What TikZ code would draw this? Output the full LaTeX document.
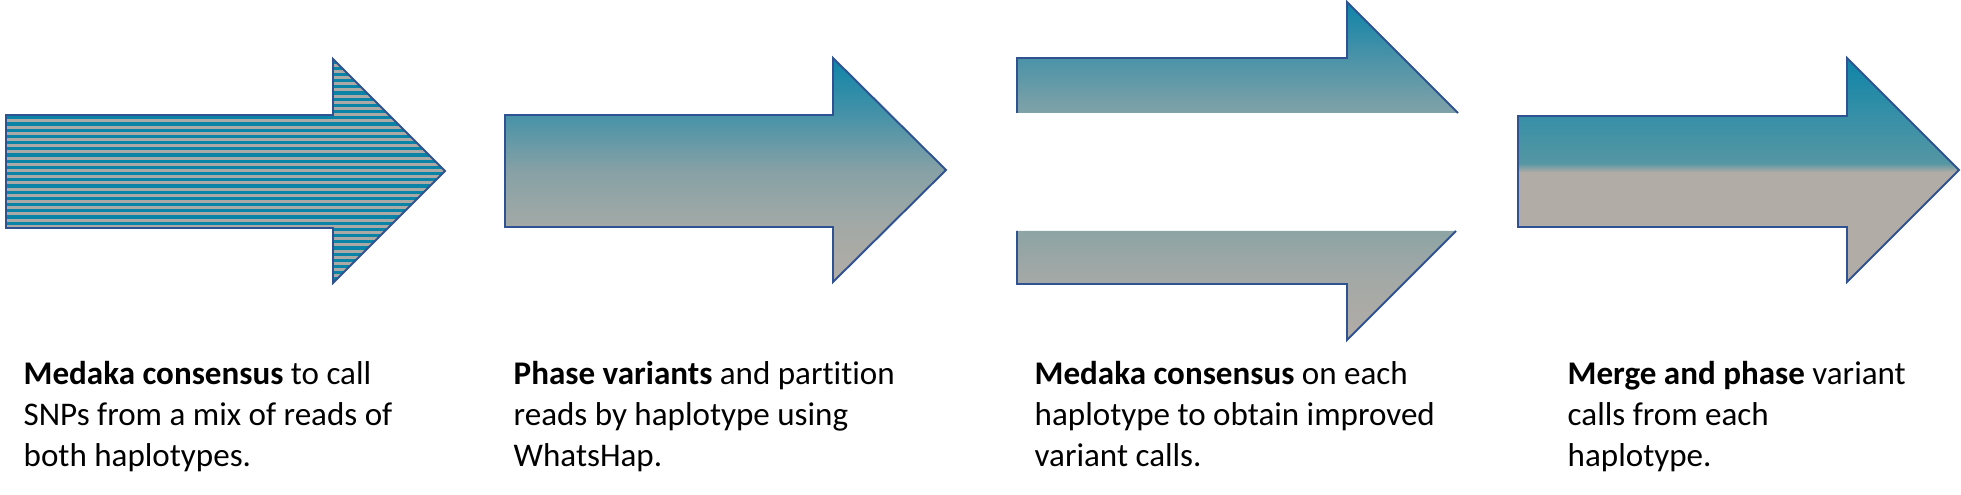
\documentclass[tikz,border=0pt]{standalone}
\usepackage{fontspec}
\setmainfont{Carlito}[Ligatures=NoCommon]
\usepackage{xcolor}
\usepackage{tikz}
\usetikzlibrary{calc, positioning}

\definecolor{arrteal}{HTML}{0E84A8}
\definecolor{arrgray}{HTML}{B2ACA7}
\definecolor{arredge}{HTML}{2F5293}
\definecolor{stripeteal}{HTML}{0983A6}
\definecolor{stripegray}{HTML}{AAA9A6}
\definecolor{phasehi}{HTML}{4592A8}
\definecolor{phasemid}{HTML}{86A1A6}
\definecolor{phaselow}{HTML}{A3A9A6}
\definecolor{splithi}{HTML}{4B93A8}
\definecolor{splitcut}{HTML}{80A2A8}
\definecolor{splitmid}{HTML}{8EA4A5}
\definecolor{splitlow}{HTML}{A5A9A6}
\definecolor{mergeteal}{HTML}{3790A7}
\definecolor{mergelow}{HTML}{5596A3}

\pgfdeclareverticalshading{phaseshade}{100bp}{color(0bp)=(arrgray); color(25bp)=(arrgray);
  color(37.5bp)=(phaselow); color(50bp)=(phasemid); color(62.5bp)=(phasehi); color(75bp)=(arrteal); color(100bp)=(arrteal)}
\pgfdeclareverticalshading{splitshade}{100bp}{color(0bp)=(arrgray); color(25bp)=(arrgray);
  color(33.3bp)=(splitlow); color(41bp)=(splitmid); color(58.6bp)=(splitcut); color(66.7bp)=(splithi); color(75bp)=(arrteal); color(100bp)=(arrteal)}
\pgfdeclareverticalshading{mergeshade}{100bp}{color(0bp)=(arrgray); color(49.5bp)=(arrgray);
  color(51.5bp)=(mergelow); color(62bp)=(mergeteal); color(75bp)=(arrteal); color(100bp)=(arrteal)}

\tikzset{
  arrowedge/.style={draw=arredge, line width=0.55pt, line join=miter},
  caption/.style={anchor=north west, align=left, inner sep=0pt,
    font=\fontsize{9.4}{11.67}\selectfont}
}

\begin{document}
\begin{tikzpicture}[x=0.01cm, y=-0.01cm]
    \useasboundingbox (0,0) rectangle (1961,495);

    % 1. Mũi tên sọc
    \begin{scope}
        \clip (6,115) -- (333,115) -- (333,59) -- (445,171) -- (333,283) -- (333,228) -- (6,228) -- cycle;
        \fill[stripegray] (0,50) rectangle (450,290);
        \foreach \y in {60.5,66.7,...,284} {
            \fill[stripeteal] (0,\y) rectangle (450,\y+3.2);
        }
    \end{scope}
    \draw[arrowedge] (6,115) -- (333,115) -- (333,59) -- (445,171) -- (333,283) -- (333,228) -- (6,228) -- cycle;

    % 2. Mũi tên chuyển màu
    \shade[shading=phaseshade]
        (505,115) -- (833,115) -- (833,58) -- (946,170) -- (833,282) -- (833,227) -- (505,227) -- cycle;
    \draw[arrowedge] (505,115) -- (833,115) -- (833,58) -- (946,170) -- (833,282) -- (833,227) -- (505,227) -- cycle;

    % 3. Mũi tên bị tách đôi
    \shade[shading=splitshade]
        (1017,113) -- (1017,58) -- (1347,58) -- (1347,2) -- (1458,113) -- cycle
        (1017,231) -- (1017,284) -- (1347,284) -- (1347,340) -- (1456,231) -- cycle;
    \draw[arrowedge] (1017,113) -- (1017,58) -- (1347,58) -- (1347,2) -- (1458,113);
    \draw[arrowedge] (1017,231) -- (1017,284) -- (1347,284) -- (1347,340) -- (1456,231);

    % 4. Mũi tên cuối
    \shade[shading=mergeshade]
        (1518,116) -- (1847,116) -- (1847,58) -- (1959,170) -- (1847,282) -- (1847,227) -- (1518,227) -- cycle;
    \draw[arrowedge] (1518,116) -- (1847,116) -- (1847,58) -- (1959,170) -- (1847,282) -- (1847,227) -- (1518,227) -- cycle;

    % 5. Chú thích
    \node[caption] (medaka) at (23,361) {\textbf{Medaka consensus} to call\\SNPs from a mix of reads of\\both haplotypes.};
    \node[caption] (phase) at (513,361) {\textbf{Phase variants} and partition\\reads by haplotype using\\WhatsHap.};
    \node[caption] (polish) at (1034,361) {\textbf{Medaka consensus} on each\\haplotype to obtain improved\\variant calls.};
    \node[caption] (merge) at (1567,361) {\textbf{Merge and phase} variant\\calls from each\\haplotype.};
\end{tikzpicture}
\end{document}
